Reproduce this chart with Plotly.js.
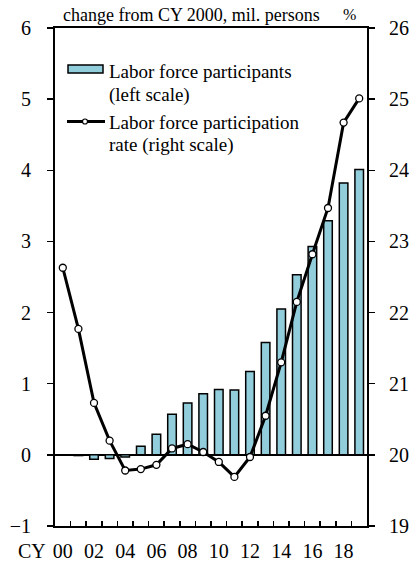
<!DOCTYPE html>
<html>
<head>
<meta charset="utf-8">
<script src="https://cdn.plot.ly/plotly-3.0.1.min.js"></script>
<style>html,body{margin:0;padding:0;background:#fff;}#chart{width:415px;height:567px;}</style>
</head>
<body>
<div id="chart"></div>
<script>
const years = [2000,2001,2002,2003,2004,2005,2006,2007,2008,2009,2010,2011,2012,2013,2014,2015,2016,2017,2018,2019];
const participants = [0,-0.01,-0.06,-0.05,-0.03,0.12,0.29,0.57,0.73,0.86,0.92,0.91,1.17,1.58,2.05,2.53,2.93,3.29,3.82,4.01];
const rate = [22.63,21.77,20.73,20.20,19.78,19.80,19.86,20.09,20.15,20.04,19.90,19.69,19.97,20.55,21.30,22.15,22.82,23.47,24.67,25.01];
const xTickVals = [2000,2002,2004,2006,2008,2010,2012,2014,2016,2018];
const xTickText = ['00','02','04','06','08','10','12','14','16','18'];
const leftTicks = [-1,0,1,2,3,4,5,6];
const rightTicks = [19,20,21,22,23,24,25,26];
const boundaries = [1999.5,2000.5,2001.5,2002.5,2003.5,2004.5,2005.5,2006.5,2007.5,2008.5,2009.5,2010.5,2011.5,2012.5,2013.5,2014.5,2015.5,2016.5,2017.5,2018.5,2019.5];

const FONT = 'Liberation Serif';
const L = 55, R = 367, T = 28, B = 526;
const px = v => (v - L) / (R - L);
const py = v => (B - v) / (B - T);

const traces = [
  {type:'bar', x:years, y:participants, xaxis:'x', yaxis:'y', width:0.55,
   marker:{color:'#92CDDC', line:{color:'#000', width:1.5}}, showlegend:false, hoverinfo:'skip'},
  {type:'scatter', mode:'lines+markers', x:years, y:rate, xaxis:'x', yaxis:'y2',
   line:{color:'#000', width:3}, marker:{symbol:'circle', size:7, color:'#fff', line:{color:'#000', width:1.3}},
   showlegend:false, hoverinfo:'skip'},
  {type:'scatter', mode:'markers', x:[2000], y:[0], xaxis:'x2', yaxis:'y', marker:{opacity:0}, showlegend:false, hoverinfo:'skip'}
];

const layout = {
  width:415, height:567,
  margin:{l:L, r:415-R, t:T, b:567-B, pad:0},
  paper_bgcolor:'#fff', plot_bgcolor:'#fff',
  font:{family:FONT, size:20, color:'#000'},
  bargap:0,
  xaxis:{range:[1999.5,2019.5], tickmode:'array', tickvals:xTickVals, ticktext:xTickText,
    ticks:'', showgrid:false, zeroline:false, showline:true, linecolor:'#000', linewidth:2, mirror:true,
    tickfont:{family:FONT, size:20, color:'#000'}, ticklabelstandoff:6},
  xaxis2:{overlaying:'x', range:[1999.5,2019.5], tickmode:'array', tickvals:boundaries, ticks:'inside',
    ticklen:5, tickwidth:1.5, tickcolor:'#000', showticklabels:false, showgrid:false, zeroline:false, showline:false, side:'bottom', anchor:'y'},
  yaxis:{range:[-1,6], tickmode:'array', tickvals:leftTicks, ticks:'outside', ticklen:6, tickwidth:1.5, tickcolor:'#000',
    showgrid:false, zeroline:true, zerolinecolor:'#000', zerolinewidth:2, showline:true, linecolor:'#000', linewidth:2,
    tickfont:{family:FONT, size:20, color:'#000'}, ticklabelstandoff:12},
  yaxis2:{range:[19,26], overlaying:'y', side:'right', tickmode:'array', tickvals:rightTicks, ticks:'outside', ticklen:6, tickwidth:1.5, tickcolor:'#000',
    showgrid:false, zeroline:false, showline:true, linecolor:'#000', linewidth:2,
    tickfont:{family:FONT, size:20, color:'#000'}, ticklabelstandoff:10},
  shapes:[
    {type:'rect', xref:'paper', yref:'paper', x0:px(68), x1:px(103), y0:py(73), y1:py(65), fillcolor:'#92CDDC', line:{color:'#000', width:1.5}},
    {type:'line', xref:'paper', yref:'paper', x0:px(67), x1:px(105), y0:py(121.5), y1:py(121.5), line:{color:'#000', width:3}},
    {type:'circle', xref:'paper', yref:'paper', x0:px(82.5), x1:px(87.5), y0:py(124), y1:py(119), fillcolor:'#fff', line:{color:'#000', width:1.2}}
  ],
  annotations:[
    {xref:'paper', yref:'paper', x:px(191), y:py(15), text:'change from CY 2000, mil. persons', showarrow:false, xanchor:'center', yanchor:'middle', font:{family:FONT, size:18, color:'#000'}},
    {xref:'paper', yref:'paper', x:px(349), y:py(15), text:'%', showarrow:false, xanchor:'center', yanchor:'middle', font:{family:FONT, size:16, color:'#000'}},
    {xref:'paper', yref:'paper', x:px(48), y:py(551), text:'CY', showarrow:false, xanchor:'right', yanchor:'middle', font:{family:FONT, size:20, color:'#000'}},
    {xref:'paper', yref:'paper', x:px(107), y:py(71.5), text:'Labor force participants', showarrow:false, xanchor:'left', yanchor:'middle', font:{family:FONT, size:19, color:'#000'}},
    {xref:'paper', yref:'paper', x:px(107), y:py(94.5), text:'(left scale)', showarrow:false, xanchor:'left', yanchor:'middle', font:{family:FONT, size:19, color:'#000'}},
    {xref:'paper', yref:'paper', x:px(107), y:py(122), text:'Labor force participation', showarrow:false, xanchor:'left', yanchor:'middle', font:{family:FONT, size:19, color:'#000'}},
    {xref:'paper', yref:'paper', x:px(107), y:py(145), text:'rate (right scale)', showarrow:false, xanchor:'left', yanchor:'middle', font:{family:FONT, size:19, color:'#000'}}
  ]
};

Plotly.newPlot('chart', traces, layout, {staticPlot:true, displayModeBar:false});
</script>
</body>
</html>
